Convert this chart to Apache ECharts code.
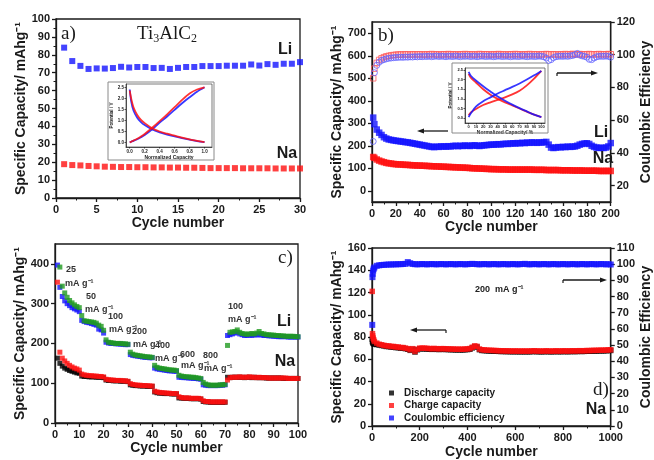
<!DOCTYPE html>
<html>
<head>
<meta charset="utf-8">
<script src="https://cdn.jsdelivr.net/npm/echarts@6/dist/echarts.min.js"></script>
<style>
  html, body { margin: 0; padding: 0; background: #fff; }
  #chart { width: 654px; height: 460px; }
</style>
</head>
<body>
<div id="chart"></div>
<script>
// ---- panel a : Ti3AlC2, cycles 1-30 ----
var aLi = [84, 76.5, 73.8, 72.1, 72.4, 72.3, 72.6, 73.3, 72.9, 73.2, 73.2, 72.6, 72.7, 72.1, 72.7,
           73.2, 73.2, 73.7, 73.7, 73.7, 73.9, 73.9, 73.9, 74.6, 74, 74.8, 74.4, 75, 75, 75.9];
var aNa = [18.9, 18.4, 18.2, 17.9, 17.7, 17.5, 17.4, 17.3, 17.3, 17.2, 17.2, 17.1, 17.1, 17.0, 17.0,
           16.9, 16.9, 16.8, 16.7, 16.7, 16.7, 16.7, 16.6, 16.6, 16.6, 16.6, 16.5, 16.5, 16.5, 16.5];

// inset a : potential (V) vs normalized capacity
var aInsX    = [0, 0.02, 0.05, 0.1, 0.15, 0.2, 0.3, 0.4, 0.5, 0.6, 0.7, 0.8, 0.9, 1.0];
var aDisBlue = [2.4, 1.85, 1.45, 1.12, 0.93, 0.79, 0.59, 0.46, 0.36, 0.28, 0.2, 0.13, 0.07, 0.02];
var aDisRed  = [2.35, 1.98, 1.6, 1.25, 1.03, 0.88, 0.65, 0.5, 0.4, 0.31, 0.22, 0.14, 0.08, 0.02];
var aChaBlue = [0, 0.04, 0.08, 0.15, 0.24, 0.34, 0.6, 0.9, 1.18, 1.48, 1.78, 2.05, 2.3, 2.5];
var aChaRed  = [0, 0.04, 0.09, 0.17, 0.27, 0.39, 0.67, 0.97, 1.28, 1.6, 1.93, 2.22, 2.4, 2.5];

// ---- panel b : 200 cycles (cycle 1, then every 2nd cycle) ----
var bLi = [325, 296, 272, 258, 248, 238, 232, 228, 226, 224, 222,
           221, 219, 218, 216, 215, 213, 211, 209, 207, 205,
           203, 201, 199, 197, 195, 194, 196, 195, 197, 197,
           196, 198, 197, 199, 200, 198, 200, 199, 201, 200,
           199, 201, 202, 200, 199, 201, 202, 203, 204, 205,
           205, 206, 207, 206, 208, 209, 208, 210, 211, 210,
           212, 211, 213, 212, 214, 213, 215, 214, 213, 215,
           214, 216, 217, 205, 192, 190, 192, 194, 193, 195,
           194, 196, 195, 196, 197, 200, 205, 208, 210, 211,
           208, 200, 195, 192, 190, 191, 190, 192, 197, 212];
var bNa = [150, 146, 139, 134, 130, 127, 124, 122, 121, 119, 118,
           117, 117, 116, 115, 115, 114, 113, 113, 112, 112,
           111, 111, 110, 110, 109, 109, 108, 108, 107, 107,
           106, 106, 105, 105, 104, 104, 103, 103, 102, 102,
           101, 100, 100, 99, 99, 98, 98, 97, 97, 96,
           96, 96, 95, 95, 95, 95, 94, 94, 94, 94,
           94, 94, 94, 94, 94, 94, 94, 93, 93, 93,
           93, 93, 92, 92, 92, 92, 92, 92, 91, 91,
           91, 91, 91, 90, 90, 90, 90, 90, 89, 89,
           89, 89, 89, 89, 88, 88, 88, 88, 88, 88];
var bCeLi = [47, 89, 93.5, 95.5, 96.5, 97, 97.5, 97.8, 98, 98.2, 98.3,
             98.4, 98.5, 98.4, 98.6, 98.5, 98.7, 98.6, 98.8, 98.7, 98.9,
             98.8, 99, 98.9, 99.1, 98.8, 99, 99.2, 98.9, 99.1, 99,
             98.8, 99.1, 99, 98.9, 99.2, 99, 98.8, 99.1, 99, 99.2,
             98.9, 99, 99.1, 98.8, 99, 99.2, 99, 98.9, 99.1, 99,
             98.8, 99, 99.2, 99, 98.9, 99.1, 99, 98.8, 99, 99.1,
             98.9, 99, 99.2, 99, 98.8, 99, 99.1, 98.9, 99, 99.2,
             99, 98.8, 98, 96.5, 97, 98.2, 98.8, 99, 99.1, 99,
             99.2, 99, 99.3, 99.5, 100, 100.8, 99.8, 99.3, 99, 98.5,
             97.2, 97, 98, 98.7, 99, 99.1, 99, 99.2, 99, 98.5];
var bCeNa = [85.6, 91.5, 95, 96.8, 97.8, 98.5, 99, 99.3, 99.6, 99.8, 100,
             100.1, 100.2, 100.1, 100.3, 100.2, 100.1, 100.3, 100.2, 100.2, 100.3,
             100.2, 100.1, 100.3, 100.2, 100.4, 100.2, 100.3, 100.1, 100.2, 100.3,
             100.2, 100.4, 100.2, 100.3, 100.2, 100.1, 100.3, 100.2, 100.4, 100.3,
             100.2, 100.3, 100.1, 100.2, 100.4, 100.3, 100.2, 100.3, 100.2, 100.1,
             100.3, 100.2, 100.4, 100.2, 100.3, 100.1, 100.2, 100.3, 100.2, 100.4,
             100.3, 100.2, 100.1, 100.3, 100.2, 100.4, 100.2, 100.3, 100.2, 100.1,
             100.3, 100.2, 100.4, 100.3, 100.2, 100.3, 100.2, 100.1, 100.3, 100.2,
             100.4, 100.2, 100.3, 100.5, 100.3, 100.2, 100.4, 100.3, 100.2, 100.3,
             100.4, 100.2, 100.3, 100.2, 100.4, 100.3, 100.2, 100.3, 100.4, 100.3];
var bCycles = [1];
for (var c = 2; c <= 200; c += 2) bCycles.push(c);

// inset b : potential (V) vs normalized capacity (%)
var bInsX    = [0, 3, 10, 20, 30, 40, 50, 60, 70, 80, 90, 100];
var bDisBlue = [2.4, 2.2, 1.95, 1.65, 1.38, 1.12, 0.9, 0.7, 0.52, 0.35, 0.18, 0.05];
var bDisRed  = [2.3, 2.1, 1.85, 1.5, 1.22, 1.0, 0.82, 0.66, 0.5, 0.34, 0.18, 0.05];
var bChaBlue = [0.05, 0.25, 0.6, 0.88, 1.08, 1.28, 1.45, 1.62, 1.8, 2.0, 2.22, 2.45];
var bChaRed  = [0.15, 0.3, 0.48, 0.68, 0.82, 0.95, 1.08, 1.23, 1.42, 1.7, 2.05, 2.45];

// ---- panel c : rate capability, cycles 1-100 ----
var cLiDis = [397, 341, 318, 307, 300, 295, 290, 287, 284, 280,
              258, 255, 253, 252, 250, 248, 246, 236, 234, 226,
              203, 201, 200, 200, 199, 199, 198, 198, 197, 197,
              172, 170, 169, 168, 167, 166, 165, 165, 164, 164,
              138, 136, 135, 134, 133, 132, 131, 131, 130, 130,
              115, 115, 114, 114, 113, 113, 112, 112, 111, 110,
              96, 95, 94, 94, 94, 94, 94, 95, 95, 96,
              220, 222, 224, 226, 228, 224, 222, 220, 220, 221,
              220, 222, 221, 223, 221, 220, 220, 219, 219, 218,
              218, 217, 217, 217, 217, 216, 216, 216, 216, 216];
var cLiCha = [null, 392, 344, 327, 316, 308, 302, 297, 293, 290,
              270, 257, 256, 255, 254, 253, 251, 246, 243, 233,
              209, 203, 202, 201, 200, 200, 200, 199, 199, 198,
              178, 173, 171, 170, 169, 168, 167, 166, 166, 165,
              145, 140, 138, 137, 136, 135, 134, 133, 133, 132,
              120, 118, 117, 116, 116, 115, 115, 114, 113, 112,
              102, 98, 96, 95, 95, 95, 95, 96, 96, 97,
              195, 228, 229, 230, 234, 228, 225, 224, 223, 224,
              225, 224, 226, 230, 225, 224, 222, 222, 221, 221,
              220, 220, 219, 219, 218, 218, 218, 218, 217, 217];
var cNaDis = [163, 150, 143, 138, 135, 132, 130, 128, 126, 125,
              118, 117, 117, 116, 116, 116, 115, 115, 115, 114,
              108, 107, 107, 106, 106, 106, 105, 105, 105, 104,
              96, 95, 94, 94, 93, 93, 93, 92, 92, 92,
              78, 76, 75, 75, 74, 74, 74, 73, 73, 73,
              63, 63, 62, 62, 62, 61, 61, 61, 61, 60,
              54, 53, 53, 52, 52, 52, 52, 52, 52, 52,
              115, 114, 115, 115, 115, 115, 115, 114, 115, 115,
              114, 115, 114, 114, 114, 114, 113, 113, 113, 113,
              113, 113, 113, 112, 112, 112, 112, 112, 112, 112];
var cNaCha = [354, 178, 163, 156, 150, 145, 141, 138, 136, 133,
              123, 121, 120, 119, 119, 118, 118, 117, 117, 116,
              110, 109, 108, 108, 107, 107, 107, 106, 106, 105,
              99, 97, 96, 95, 95, 94, 94, 94, 93, 93,
              80, 78, 77, 76, 76, 75, 75, 74, 74, 74,
              66, 64, 63, 63, 63, 62, 62, 62, 62, 61,
              56, 54, 54, 53, 53, 53, 53, 53, 53, 53,
              108, 114, 115, 115, 115, 116, 115, 115, 115, 116,
              115, 115, 114, 115, 114, 114, 114, 113, 113, 113,
              113, 113, 113, 113, 113, 112, 112, 112, 112, 112];
var cRates = [
  {rate: '25',  x: 66,  y: 270, ux: 65,  uy: 284},
  {rate: '50',  x: 86,  y: 297, ux: 85,  uy: 310},
  {rate: '100', x: 108, y: 317, ux: 109, uy: 330},
  {rate: '200', x: 132, y: 332, ux: 133, uy: 345},
  {rate: '400', x: 155, y: 346, ux: 155, uy: 359},
  {rate: '600', x: 180, y: 355, ux: 181, uy: 366},
  {rate: '800', x: 203, y: 356, ux: 204, uy: 369},
  {rate: '100', x: 228, y: 307, ux: 228, uy: 320}
];

// ---- panel d : long cycling at 200 mA/g, cycles 1,2,3,5,7 then every 10th ----
var dCha = [121, 83, 81, 79, 77.5,
            76, 74.5, 73.5, 73, 72.5, 72, 72, 71.5, 71.5, 71,
            71, 70.5, 70.5, 70, 69.5, 68.5, 69.5, 67, 69, 70,
            70, 70, 69.8, 69.6, 69.5, 69.7, 69.5, 69.4, 69.5, 69.5,
            69.4, 69.3, 69.2, 69.2, 69, 69.1, 69, 69, 69.2, 69.3,
            69.6, 70.8, 72, 71.6, 69.2, 68.5, 68.4, 68.2, 68.1, 68,
            67.9, 67.8, 67.7, 67.6, 67.6, 67.5, 67.5, 67.4, 67.4, 67.4,
            67.4, 67.3, 67.4, 67.3, 67.4, 67.3, 67.5, 67.6, 67.4, 67.4,
            67.3, 67.4, 67.5, 67.4, 67.3, 67.4, 67.5, 67.4, 67.4, 67.5,
            67.5, 67.4, 67.5, 67.6, 67.5, 67.6, 67.7, 67.6, 67.7, 67.8,
            67.8, 67.9, 68, 68, 68.1, 68.2, 68.1, 68.3, 68.4, 68.5];
var dDis = [78, 76, 75, 74.5, 74,
            73.5, 73.2, 72.8, 72.4, 72, 71.5, 71.4, 71, 71, 70.5,
            70.4, 70, 70, 69.5, 69, 68, 69, 66.5, 68.5, 69.4,
            69.4, 69.4, 69.2, 69, 68.9, 69.1, 68.9, 68.8, 68.9, 68.9,
            68.8, 68.7, 68.6, 68.6, 68.4, 68.5, 68.4, 68.4, 68.6, 68.7,
            69, 70.2, 71.4, 71, 68.6, 67.9, 67.8, 67.6, 67.5, 67.4,
            67.3, 67.2, 67.1, 67, 67, 66.9, 66.9, 66.8, 66.8, 66.8,
            66.8, 66.7, 66.8, 66.7, 66.8, 66.7, 66.9, 67, 66.8, 66.8,
            66.7, 66.8, 66.9, 66.8, 66.7, 66.8, 66.9, 66.8, 66.8, 66.9,
            66.9, 66.8, 66.9, 67, 66.9, 67, 67.1, 67, 67.1, 67.2,
            67.2, 67.3, 67.4, 67.4, 67.5, 67.6, 67.5, 67.7, 67.8, 67.9];
var dCe = [62.5, 92, 94, 96, 97.2,
           98, 99, 99.3, 99.5, 99.6, 99.7, 99.8, 99.8, 99.9, 99.9,
           100, 100, 100.1, 100.2, 101.3, 100.6, 100.1, 100, 99.9, 100,
           100.1, 100, 99.9, 100, 100.1, 100, 99.9, 100, 100.1, 100,
           99.9, 100, 100.1, 100, 99.9, 100, 100.1, 100, 99.9, 100,
           100.1, 100.2, 100.1, 100, 99.9, 100, 100.1, 100, 99.9, 100,
           100.1, 100, 99.9, 100, 100.1, 100, 99.9, 100, 100.1, 100,
           99.9, 100, 100.1, 100.2, 100, 99.9, 100, 100.1, 100, 99.9,
           100, 100.1, 100, 99.9, 100, 100.1, 100, 99.9, 100, 100.1,
           100, 99.9, 100, 100.1, 100, 99.9, 100, 100.1, 100, 99.9,
           100, 100.1, 100, 99.9, 100, 100.1, 100, 99.9, 100, 99.8];
var dCycles = [1, 2, 3, 5, 7];
for (var k = 10; k <= 1000; k += 10) dCycles.push(k);

// ---- helpers ----
var SANS = 'Liberation Sans, Arial, sans-serif';
var SERIF = 'Liberation Serif, Times New Roman, serif';
var INK = '#1a1a1a';
var BLUE = '#1414ff', RED = '#ff1010', GREEN = '#1f9a1f', BLACK = '#000';
var CAP = 'Specific Capacity/ mAhg\u207B\u00B9';

function zip(xs, ys) { return xs.map(function (x, i) { return [x, ys[i]]; }); }
function byCycle(ys) { return ys.map(function (y, i) { return [i + 1, y]; }); }

function axis(o) {
  var ax = {
    type: 'value', gridIndex: o.grid, min: o.min, max: o.max, interval: o.interval,
    position: o.position, name: o.name, nameLocation: 'middle', nameGap: o.nameGap,
    nameRotate: o.nameRotate,
    nameTextStyle: {fontFamily: SANS, fontWeight: 'bold', fontSize: o.nameSize || 14, color: INK},
    axisLine: {show: true, onZero: false, lineStyle: {color: INK, width: o.lw || 1.3}},
    axisTick: {show: true, length: o.tickLen || 4, lineStyle: {color: INK, width: o.lw || 1.3}},
    minorTick: {show: !!o.minor, splitNumber: 2, length: 2.5, lineStyle: {color: INK, width: 1}},
    axisLabel: {fontFamily: SANS, fontWeight: 'bold', fontSize: o.labelSize || 11, color: INK,
                margin: o.margin || 6, showMinLabel: true, showMaxLabel: true,
                formatter: o.fmt || function (v) { return String(v); }},
    splitLine: {show: false}
  };
  if (o.ticks) { ax.axisTick.customValues = o.ticks; ax.axisLabel.customValues = o.ticks; }
  return ax;
}
function scat(name, xi, yi, data, color, size, hollow, z) {
  return {
    type: 'scatter', name: name, xAxisIndex: xi, yAxisIndex: yi, data: data,
    symbol: hollow === 'circle' ? 'circle' : 'rect', symbolSize: size, z: z || 2,
    itemStyle: hollow ? {color: 'rgba(255,255,255,0)', borderColor: color, borderWidth: 1}
                      : {color: color},
    silent: true, animation: false
  };
}
function curve(xi, yi, xs, ys, color) {
  return {
    type: 'line', xAxisIndex: xi, yAxisIndex: yi, data: zip(xs, ys), smooth: 0.3,
    showSymbol: false, lineStyle: {color: color, width: 1.8, opacity: 0.85},
    silent: true, animation: false, z: 5
  };
}
function txt(s, x, y, size, opts) {
  opts = opts || {};
  return {
    type: 'text', z: 20, silent: true,
    style: {
      text: s, x: x, y: y, fill: opts.color || INK,
      font: (opts.serif ? '' : 'bold ') + size + 'px ' + (opts.serif ? SERIF : SANS),
      align: opts.align || 'left', textAlign: opts.align || 'left',
      verticalAlign: 'middle', textVerticalAlign: 'middle', rich: opts.rich
    }
  };
}
function arrow(x1, x2, y, hook) {
  var d = x2 > x1 ? 1 : -1;
  var els = [
    {type: 'line', shape: {x1: x1, y1: y, x2: x2 - d * 4, y2: y}, style: {stroke: INK, lineWidth: 1.3}},
    {type: 'polygon', shape: {points: [[x2, y], [x2 - d * 7, y - 2.6], [x2 - d * 7, y + 2.6]]}, style: {fill: INK}}
  ];
  if (hook) els.push({type: 'line', shape: {x1: x1, y1: y, x2: x1, y2: y + 3}, style: {stroke: INK, lineWidth: 1.2}});
  return {type: 'group', z: 20, silent: true, children: els};
}

var gridBase = {show: true, borderColor: INK, borderWidth: 1.3, backgroundColor: 'rgba(0,0,0,0)'};
var insetBase = {show: true, borderColor: '#444', borderWidth: 0.7, backgroundColor: 'rgba(0,0,0,0)'};
var f1 = function (v) { return v.toFixed(1); };

var option = {
  backgroundColor: '#fff',
  animation: false,
  grid: [
    Object.assign({left: 56, top: 19, width: 244, height: 179}, gridBase),
    Object.assign({left: 372, top: 22, width: 242, height: 180}, gridBase),
    Object.assign({left: 55, top: 244, width: 243, height: 179}, gridBase),
    Object.assign({left: 372, top: 248, width: 242, height: 179}, gridBase),
    Object.assign({left: 126, top: 84, width: 86, height: 63}, insetBase),
    Object.assign({left: 465, top: 68, width: 80, height: 55}, insetBase)
  ],
  xAxis: [
    axis({grid: 0, min: 0, max: 30, interval: 5, minor: true, name: 'Cycle number', nameGap: 18}),
    axis({grid: 1, min: 0, max: 200, interval: 20, minor: true, name: 'Cycle number', nameGap: 17}),
    axis({grid: 2, min: 0, max: 100, interval: 10, minor: true, name: 'Cycle number', nameGap: 18}),
    axis({grid: 3, min: 0, max: 1000, interval: 200, minor: true, name: 'Cycle number', nameGap: 19}),
    axis({grid: 4, min: -0.05, max: 1.1, ticks: [0, 0.2, 0.4, 0.6, 0.8, 1.0], fmt: f1, labelSize: 4.5,
          margin: 2, tickLen: 1.5, lw: 0.7, name: 'Normalized Capacity', nameSize: 5, nameGap: 6}),
    axis({grid: 5, min: -5, max: 105, ticks: [0, 10, 20, 30, 40, 50, 60, 70, 80, 90, 100], labelSize: 4,
          margin: 2, tickLen: 1.5, lw: 0.7, name: 'Normalized Capacity/ %', nameSize: 5, nameGap: 6})
  ],
  yAxis: [
    axis({grid: 0, min: 0, max: 100, interval: 10, minor: true, name: CAP, nameGap: 27, nameRotate: 90}),
    axis({grid: 1, min: -50, max: 750, ticks: [0, 100, 200, 300, 400, 500, 600, 700], name: CAP, nameGap: 28, nameRotate: 90}),
    axis({grid: 1, min: 10, max: 120, position: 'right', ticks: [20, 40, 60, 80, 100, 120],
          name: 'Coulombic Efficiency', nameGap: 23, nameRotate: 90}),
    axis({grid: 2, min: 0, max: 450, ticks: [0, 100, 200, 300, 400], name: CAP, nameGap: 28, nameRotate: 90}),
    axis({grid: 3, min: 0, max: 160, interval: 20, name: CAP, nameGap: 27, nameRotate: 90}),
    axis({grid: 3, min: 0, max: 110, interval: 10, position: 'right', name: 'Coulombic Efficiency',
          nameGap: 25, nameRotate: 90}),
    axis({grid: 4, min: -0.2, max: 2.65, ticks: [0, 0.5, 1.0, 1.5, 2.0, 2.5], fmt: f1, labelSize: 4.5,
          margin: 2, tickLen: 1.5, lw: 0.7, name: 'Potential / V', nameSize: 4.5, nameGap: 9, nameRotate: 90}),
    axis({grid: 5, min: -0.25, max: 2.6, ticks: [0, 0.5, 1.0, 1.5, 2.0, 2.5], fmt: f1, labelSize: 4,
          margin: 2, tickLen: 1.5, lw: 0.7, name: 'Potential / V', nameSize: 4.5, nameGap: 9, nameRotate: 90})
  ],
  legend: {
    data: ['Discharge capacity', 'Charge capacity', 'Coulombic efficiency'],
    orient: 'vertical', left: 384, top: 383, itemWidth: 5, itemHeight: 5, itemGap: 2.5,
    icon: 'rect', selectedMode: false,
    textStyle: {fontFamily: SANS, fontWeight: 'bold', fontSize: 10, color: INK, padding: [0, 0, 0, 5]}
  },
  series: [
    // a
    scat('a Li', 0, 0, byCycle(aLi), BLUE, 6),
    scat('a Na', 0, 0, byCycle(aNa), RED, 6),
    curve(4, 6, aInsX, aDisBlue, BLUE), curve(4, 6, aInsX, aChaBlue, BLUE),
    curve(4, 6, aInsX, aDisRed, RED), curve(4, 6, aInsX, aChaRed, RED),
    // b
    scat('b Na', 1, 1, zip(bCycles, bNa), RED, 6.5),
    scat('b Li', 1, 1, zip(bCycles, bLi), BLUE, 6.5),
    scat('b CE Na', 1, 2, zip(bCycles, bCeNa), '#ff5a5a', 5.5, 'rect'),
    scat('b CE Li', 1, 2, zip(bCycles, bCeLi), '#6464ff', 6, 'circle'),
    curve(5, 7, bInsX, bDisRed, RED), curve(5, 7, bInsX, bChaRed, RED),
    curve(5, 7, bInsX, bDisBlue, BLUE), curve(5, 7, bInsX, bChaBlue, BLUE),
    // c
    scat('c Li dis', 2, 3, byCycle(cLiDis), BLUE, 5),
    scat('c Li cha', 2, 3, byCycle(cLiCha), GREEN, 5),
    scat('c Na dis', 2, 3, byCycle(cNaDis), BLACK, 5),
    scat('c Na cha', 2, 3, byCycle(cNaCha), RED, 5),
    // d
    scat('Discharge capacity', 3, 4, zip(dCycles, dDis), BLACK, 5.5),
    scat('Charge capacity', 3, 4, zip(dCycles, dCha), RED, 5.5),
    scat('Coulombic efficiency', 3, 5, zip(dCycles, dCe), BLUE, 6)
  ],
  graphic: [
    // inset picture frames (outline only, so the inset axes stay visible)
    {type: 'rect', z: 1, silent: true, shape: {x: 108, y: 82, width: 106, height: 78},
     style: {fill: 'none', stroke: '#8a8a8a', lineWidth: 1}},
    {type: 'rect', z: 1, silent: true, shape: {x: 452, y: 63, width: 96, height: 70},
     style: {fill: 'none', stroke: '#8a8a8a', lineWidth: 1}},
    // a
    txt('a)', 61, 34, 19, {serif: true}),
    txt('{n|Ti}{s|3}{n|AlC}{s|2}', 137, 34, 19, {serif: true, rich: {
      n: {fontFamily: SERIF, fontSize: 19, verticalAlign: 'bottom', fill: INK},
      s: {fontFamily: SERIF, fontSize: 12, verticalAlign: 'bottom', fill: INK, padding: [0, 0, -1, 0]}
    }}),
    txt('Li', 285, 50, 16, {align: 'center'}),
    txt('Na', 287, 154, 16, {align: 'center'}),
    // b
    txt('b)', 378, 36, 19, {serif: true}),
    txt('Li', 601, 133, 16, {align: 'center'}),
    txt('Na', 603, 159, 16, {align: 'center'}),
    arrow(448, 417, 131, false),
    arrow(557, 598, 73, true),
    // c
    txt('c)', 278, 258, 19, {serif: true}),
    txt('Li', 284, 322, 16, {align: 'center'}),
    txt('Na', 285, 362, 16, {align: 'center'}),
    // d
    txt('200  mA g\u207B\u00B9', 475, 290, 9, {color: '#222'}),
    arrow(446, 410, 330, true),
    arrow(563, 607, 280, true),
    txt('d)', 593, 390, 19, {serif: true}),
    txt('Na', 596, 410, 16, {align: 'center'})
  ]
};
cRates.forEach(function (r) {
  option.graphic.push(txt(r.rate, r.x, r.y, 9, {color: '#333'}));
  option.graphic.push(txt('mA g\u207B\u00B9', r.ux, r.uy, 9, {color: '#333'}));
});

var chart = echarts.init(document.getElementById('chart'));
chart.setOption(option);
</script>
</body>
</html>
